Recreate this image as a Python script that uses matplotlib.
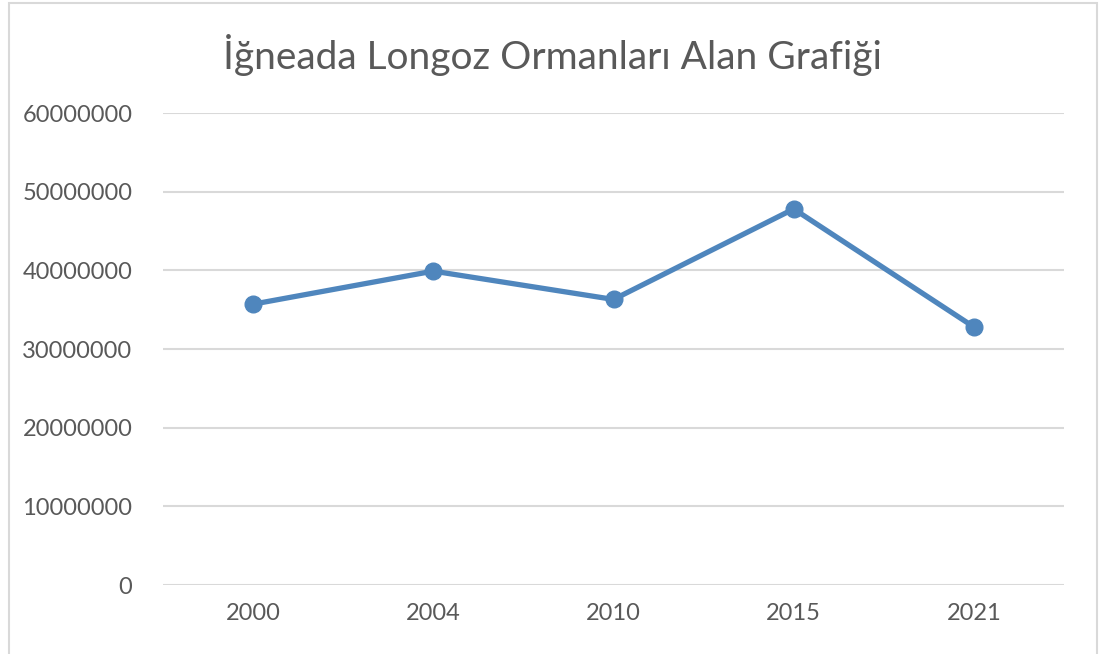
import matplotlib
matplotlib.use("Agg")
import matplotlib.pyplot as plt
from matplotlib.patches import Rectangle

# values
years = ["2000", "2004", "2010", "2015", "2021"]
area = [35700000, 39900000, 36300000, 47800000, 32800000]
y_ticks = [0, 10000000, 20000000, 30000000, 40000000, 50000000, 60000000]
title = "İğneada Longoz Ormanları Alan Grafiği"

plt.rcParams["font.family"] = ["Lato", "DejaVu Sans"]

W, H = 1102, 654
fig = plt.figure(figsize=(W / 100, H / 100), dpi=100)
fig.patch.set_facecolor("white")

# outer chart frame (bottom edge runs off the image)
fig.patches.append(Rectangle((9 / W, -0.05), (1097 - 9) / W, 1.05 - 3 / H,
                             transform=fig.transFigure, fill=False,
                             edgecolor="#d9d9d9", lw=1.5))

ax = fig.add_axes([163 / W, (H - 585) / H, (1064 - 163) / W, (585 - 113) / H])
x = list(range(len(years)))
ax.plot(x, area, color="#4f86bd", lw=3.8, marker="o", markersize=12,
        solid_capstyle="round", zorder=3)

ax.set_xlim(-0.5, len(years) - 0.5)
ax.set_ylim(0, 60000000)
ax.set_yticks(y_ticks)
ax.set_yticklabels([str(v) for v in y_ticks])
ax.set_xticks(x)
ax.set_xticklabels(years)
ax.grid(axis="y", color="#d9d9d9", lw=1.5)
ax.set_axisbelow(True)
for s in ax.spines.values():
    s.set_visible(False)
ax.tick_params(length=0, labelsize=17, colors="#595959")
ax.tick_params(axis="y", pad=22)
ax.tick_params(axis="x", pad=13)

fig.text(552 / W, (H - 55) / H, title, ha="center", va="center",
         fontsize=28, color="#595959")

fig.savefig("out.png", dpi=100)
